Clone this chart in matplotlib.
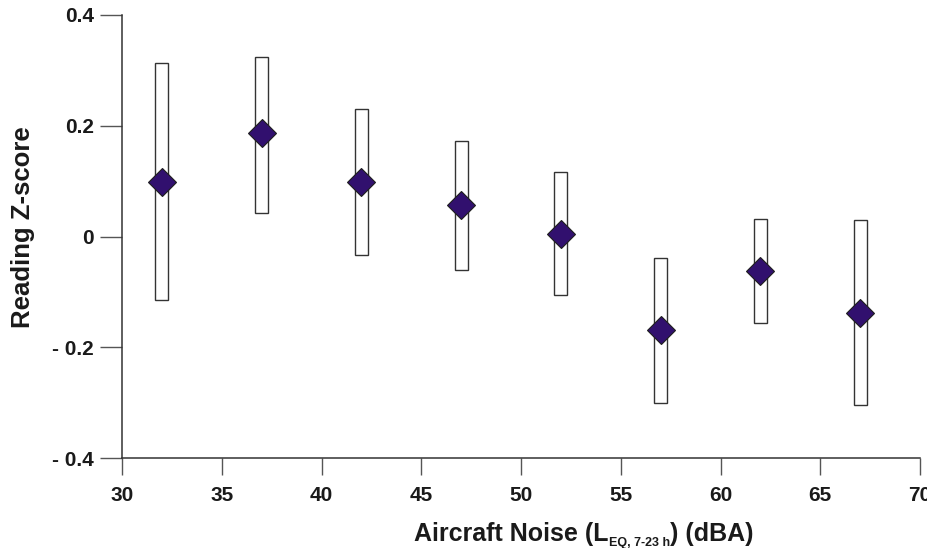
import matplotlib
matplotlib.use('Agg')
import matplotlib.pyplot as plt
import numpy as np

plt.rcParams['font.family'] = ['Liberation Sans', 'DejaVu Sans']

# data
noise = [32, 37, 42, 47, 52, 57, 62, 67]
z_mean = [0.099, 0.187, 0.099, 0.056, 0.005, -0.168, -0.063, -0.139]
z_low = [-0.114, 0.042, -0.033, -0.061, -0.105, -0.300, -0.157, -0.305]
z_high = [0.314, 0.324, 0.231, 0.173, 0.116, -0.038, 0.031, 0.029]

x_ticks = [30, 35, 40, 45, 50, 55, 60, 65, 70]
y_ticks = [-0.4, -0.2, 0, 0.2, 0.4]
y_labels = ['- 0.4', '- 0.2', '0', '0.2', '0.4']

fig = plt.figure(figsize=(9.28, 5.48), dpi=100)
ax = fig.add_axes([122/928, 1-458/548, (920-122)/928, (458-15)/548])

axcol = '#333333'
heights = np.array(z_high) - np.array(z_low)
ax.bar(noise, heights, bottom=z_low, width=0.65, facecolor='white',
       edgecolor=axcol, linewidth=1.0, zorder=2)
ax.plot(noise, z_mean, linestyle='none', marker='D', markersize=14,
        markerfacecolor='#31106e', markeredgecolor='#1e1e1e',
        markeredgewidth=0.8, zorder=3)

ax.set_xlim(30, 70)
ax.set_ylim(-0.4, 0.4)
ax.set_xticks(x_ticks)
ax.set_yticks(y_ticks)
ax.set_yticklabels(y_labels)

for s in ['top', 'right']:
    ax.spines[s].set_visible(False)
for s in ['left', 'bottom']:
    ax.spines[s].set_color(axcol)
    ax.spines[s].set_linewidth(1.1)

ax.tick_params(axis='both', width=1.0, color='#555555',
               labelsize=15, labelcolor='#1a1a1a')
ax.tick_params(axis='x', length=12, pad=8)
ax.tick_params(axis='y', length=16, pad=4)
for lab in ax.get_xticklabels() + ax.get_yticklabels():
    lab.set_fontweight('bold')

fig.text(23/928, 1-227/548, 'Reading Z-score', rotation=90, ha='center',
         va='center', fontsize=18.5, fontweight='bold', color='#1a1a1a')

# x label built from pieces so the subscript can be small
fig.canvas.draw()
r = fig.canvas.get_renderer()
y_lab = 1 - 541/548
parts = [('Aircraft Noise (L', 18, 0), ('EQ, 7-23 h', 9, -5), (') (dBA)', 18, 0)]
texts = []
for s, fs, dy in parts:
    t = fig.text(0, y_lab + dy/548, s, fontsize=fs, fontweight='bold',
                 color='#1a1a1a', ha='left', va='baseline')
    texts.append(t)
widths = [t.get_window_extent(r).width for t in texts]
x0 = 584 - sum(widths)/2
for t, w in zip(texts, widths):
    t.set_x(x0/928)
    x0 += w

fig.savefig('out.png', dpi=100)
